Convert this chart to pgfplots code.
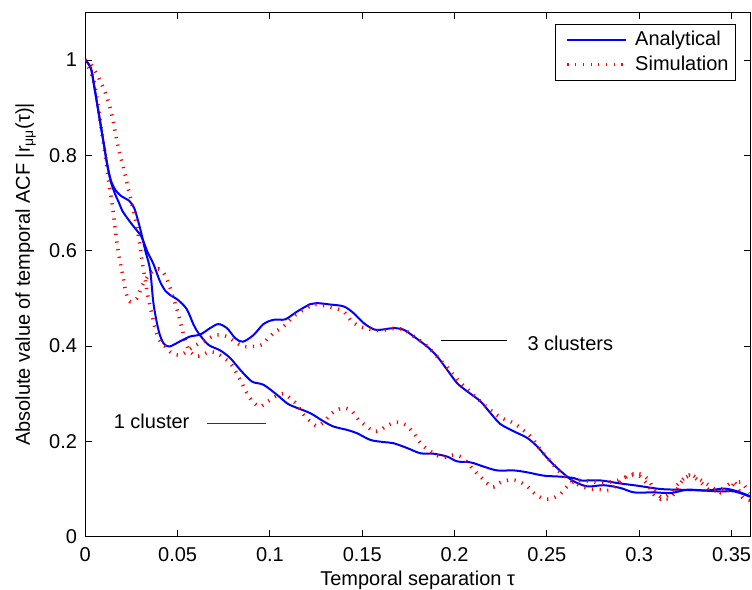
\documentclass[border=0pt]{standalone}
\usepackage{pgfplots}
\pgfplotsset{compat=1.18}
\usepackage{fontspec}
\setmainfont{Liberation Sans}

\definecolor{mblue}{RGB}{0,0,255}
\definecolor{mred}{RGB}{255,0,0}
\tikzset{simstyle/.style={mred, line width=3.6bp, dash pattern=on 1.2bp off 6.5bp, smooth, tension=0.5}}

\begin{document}
\fontsize{20bp}{24bp}\selectfont
\begin{tikzpicture}
\begin{axis}[
  scale only axis,
  width=664.7bp, height=524.4bp,
  xmin=0, xmax=0.36, ymin=0, ymax=1.1,
  axis line style={line width=0.9bp},
  every tick/.style={black, line width=0.9bp},
  major tick length=6.5bp,
  tick align=inside,
  xtick={0,0.05,0.1,0.15,0.2,0.25,0.3,0.35},
  xticklabels={0,0.05,0.1,0.15,0.2,0.25,0.3,0.35},
  ytick={0,0.2,0.4,0.6,0.8,1},
  yticklabels={0,0.2,0.4,0.6,0.8,1},
  scaled x ticks=false, scaled y ticks=false,
  xticklabel style={yshift=-4bp},
  yticklabel style={xshift=-1.5bp},
  xlabel={Temporal separation τ},
  xlabel style={at={(axis description cs:0.5,0)}, anchor=south, yshift=-53bp, inner sep=0pt},
  ylabel={Absolute value of temporal ACF |r\textsubscript{μμ}(τ)|},
  ylabel style={at={(axis description cs:-0.0742,0.5)}, anchor=south, rotate=0, inner sep=0pt},
  legend style={at={(axis description cs:1,1)}, anchor=north east, xshift=-14bp, yshift=-11.5bp,
    draw=black, line width=0.8bp, inner xsep=5bp, inner ysep=5bp, row sep=3bp,
    nodes={inner sep=2bp}, cells={anchor=west}},
  legend image code/.code={\path (-5.3bp,0bp) (64bp,0bp); \draw[#1] (0bp,0bp) -- (59bp,0bp);},
  clip=true,
]
% Analytical, 1 cluster
\addplot[mblue, line width=2bp, smooth, tension=0.5] coordinates {
(0,1) (0.003,0.983) (0.0047,0.948) (0.0065,0.906) (0.0083,0.864) (0.0101,0.822)
(0.0119,0.78) (0.0138,0.745) (0.016,0.72) (0.0183,0.70) (0.020,0.684) (0.0228,0.668)
(0.0255,0.654) (0.0282,0.641) (0.0306,0.628) (0.0336,0.598) (0.0369,0.572)
(0.0405,0.535) (0.0435,0.515) (0.0459,0.507) (0.0504,0.496) (0.055,0.477)
(0.0586,0.445) (0.0613,0.427) (0.0667,0.4025) (0.073,0.391) (0.0785,0.3746)
(0.0839,0.35) (0.0902,0.3256) (0.0965,0.3187) (0.1038,0.2977) (0.1092,0.28)
(0.1128,0.273) (0.1219,0.259) (0.129,0.242) (0.1345,0.231) (0.1418,0.224)
(0.1472,0.217) (0.1544,0.203) (0.1616,0.1985) (0.167,0.196) (0.1743,0.186)
(0.1815,0.175) (0.1887,0.174) (0.196,0.168) (0.2014,0.158) (0.2086,0.156)
(0.2158,0.147) (0.2231,0.139) (0.2321,0.139) (0.2394,0.135) (0.2484,0.128)
(0.2574,0.126) (0.2646,0.123) (0.2683,0.118) (0.279,0.118) (0.2882,0.1125)
(0.299,0.107) (0.3117,0.1) (0.3225,0.0985) (0.3333,0.097) (0.3442,0.095)
(0.3514,0.095) (0.36,0.084)
};
\addlegendentry{Analytical}
% Simulation, 1 cluster
\addplot[simstyle] coordinates {
(0,1) (0.005,0.95) (0.0083,0.865) (0.011,0.794) (0.0123,0.755) (0.0138,0.717)
(0.0152,0.679) (0.0163,0.64) (0.0176,0.605) (0.019,0.573) (0.0206,0.543)
(0.022,0.512) (0.0242,0.493) (0.0279,0.50) (0.031,0.528) (0.035,0.552)
(0.0395,0.562) (0.042,0.556) (0.044,0.542) (0.046,0.521) (0.0486,0.49)
(0.0505,0.465) (0.053,0.427) (0.0555,0.396) (0.0595,0.379) (0.063,0.381)
(0.0676,0.388) (0.072,0.383) (0.0785,0.364) (0.083,0.336) (0.0857,0.315)
(0.088,0.298) (0.091,0.282) (0.0947,0.273) (0.099,0.284) (0.103,0.294)
(0.1074,0.300) (0.112,0.287) (0.1146,0.277) (0.1183,0.256) (0.1219,0.242)
(0.1255,0.232) (0.129,0.24) (0.1327,0.256) (0.1363,0.266) (0.1408,0.27)
(0.1445,0.263) (0.148,0.245) (0.1526,0.231) (0.1562,0.221) (0.1598,0.224)
(0.1643,0.235) (0.1689,0.24) (0.1734,0.235) (0.1779,0.217) (0.1824,0.193)
(0.1896,0.172) (0.1941,0.166) (0.1987,0.171) (0.2041,0.166) (0.2104,0.14)
(0.214,0.126) (0.2204,0.104) (0.2249,0.114) (0.2303,0.1195) (0.2348,0.116)
(0.2394,0.1055) (0.243,0.0916) (0.2475,0.081) (0.252,0.079) (0.2574,0.09)
(0.261,0.1055) (0.2646,0.116) (0.27,0.118) (0.2773,0.114) (0.2827,0.114)
(0.2882,0.118) (0.2936,0.1265) (0.2999,0.132) (0.3044,0.122) (0.308,0.100)
(0.3117,0.083) (0.3162,0.080) (0.3198,0.095) (0.3234,0.118) (0.3279,0.129)
(0.3315,0.123) (0.3388,0.1055) (0.3442,0.092) (0.348,0.097) (0.3514,0.111)
(0.355,0.115) (0.3587,0.0985) (0.36,0.092)
};
\addlegendentry{Simulation}
% Analytical, 3 clusters
\addplot[mblue, line width=2bp, smooth, tension=0.5, forget plot] coordinates {
(0,1) (0.003,0.983) (0.0047,0.948) (0.0065,0.906) (0.0083,0.864) (0.0101,0.822)
(0.0119,0.78) (0.0138,0.748) (0.0165,0.726) (0.020,0.713) (0.0237,0.705)
(0.0264,0.690) (0.0282,0.668) (0.030,0.642) (0.0325,0.60) (0.0351,0.56)
(0.0369,0.49) (0.0396,0.434) (0.0423,0.406) (0.0456,0.399) (0.0514,0.41)
(0.0568,0.42) (0.0622,0.424) (0.0676,0.4375) (0.0721,0.446) (0.0767,0.4375)
(0.0812,0.4165) (0.0853,0.409) (0.0911,0.423) (0.0965,0.446) (0.102,0.455)
(0.1083,0.456) (0.1146,0.472) (0.1219,0.488) (0.1255,0.49) (0.1327,0.487)
(0.14,0.483) (0.1453,0.469) (0.1508,0.448) (0.1562,0.435) (0.1598,0.434)
(0.167,0.4375) (0.1725,0.434) (0.1779,0.42) (0.1851,0.399) (0.1906,0.378)
(0.196,0.35) (0.2014,0.322) (0.2068,0.305) (0.214,0.284) (0.2195,0.259)
(0.2249,0.236) (0.2321,0.221) (0.2394,0.207) (0.2448,0.189) (0.2502,0.165)
(0.2556,0.144) (0.261,0.126) (0.2646,0.116) (0.2719,0.1055) (0.2809,0.108)
(0.29,0.102) (0.2972,0.093) (0.308,0.093) (0.3171,0.0916) (0.3261,0.0985)
(0.337,0.097) (0.346,0.101) (0.3532,0.095) (0.36,0.085)
};
% Simulation, 3 clusters
\addplot[simstyle, forget plot] coordinates {
(0,1) (0.0038,0.987) (0.0083,0.9545) (0.0119,0.92) (0.0146,0.881) (0.0165,0.843)
(0.0183,0.808) (0.020,0.785) (0.0215,0.760) (0.0232,0.731) (0.0248,0.705)
(0.0264,0.677) (0.0277,0.654) (0.0289,0.628) (0.030,0.600) (0.0312,0.566)
(0.0326,0.535) (0.0338,0.507) (0.035,0.485) (0.0362,0.464) (0.0375,0.442)
(0.0396,0.4165) (0.0432,0.399) (0.0469,0.385) (0.0514,0.381) (0.0559,0.391)
(0.0586,0.399) (0.065,0.412) (0.071,0.423) (0.0767,0.42) (0.081,0.409)
(0.0857,0.399) (0.0902,0.399) (0.0957,0.4025) (0.099,0.4165) (0.103,0.43)
(0.1074,0.441) (0.113,0.463) (0.12,0.48) (0.1255,0.487) (0.1354,0.479)
(0.14,0.472) (0.1445,0.451) (0.149,0.441) (0.1544,0.435) (0.16,0.432)
(0.167,0.437) (0.1725,0.434) (0.178,0.42) (0.185,0.40) (0.19,0.38)
(0.196,0.355) (0.2014,0.33) (0.2068,0.31) (0.2122,0.29) (0.218,0.27)
(0.225,0.25) (0.2321,0.238) (0.2412,0.21) (0.2466,0.182) (0.252,0.158)
(0.257,0.135) (0.262,0.12) (0.268,0.107) (0.274,0.100) (0.279,0.0985)
(0.2836,0.097) (0.289,0.112) (0.2954,0.1315) (0.300,0.128) (0.3044,0.110)
(0.308,0.088) (0.3117,0.079) (0.316,0.088) (0.3207,0.109) (0.327,0.129)
(0.333,0.115) (0.3388,0.096) (0.345,0.101) (0.3514,0.114) (0.356,0.082)
(0.36,0.076)
};
% annotations
\draw[black!80, line width=0.8bp] (axis cs:0.0658,0.237) -- (axis cs:0.0978,0.237);
\node at (axis cs:0.0359,0.241) {1 cluster};
\draw[black, line width=0.8bp] (axis cs:0.1924,0.411) -- (axis cs:0.2285,0.411);
\node[anchor=west, inner sep=0pt] at (axis cs:0.2394,0.406) {3 clusters};
\coordinate (SW) at (rel axis cs:0,0);
\end{axis}
\pgfresetboundingbox
\path[use as bounding box] (SW) ++(-85.3bp,-53.3bp) rectangle ++(752bp,590bp);
\end{tikzpicture}
\end{document}
